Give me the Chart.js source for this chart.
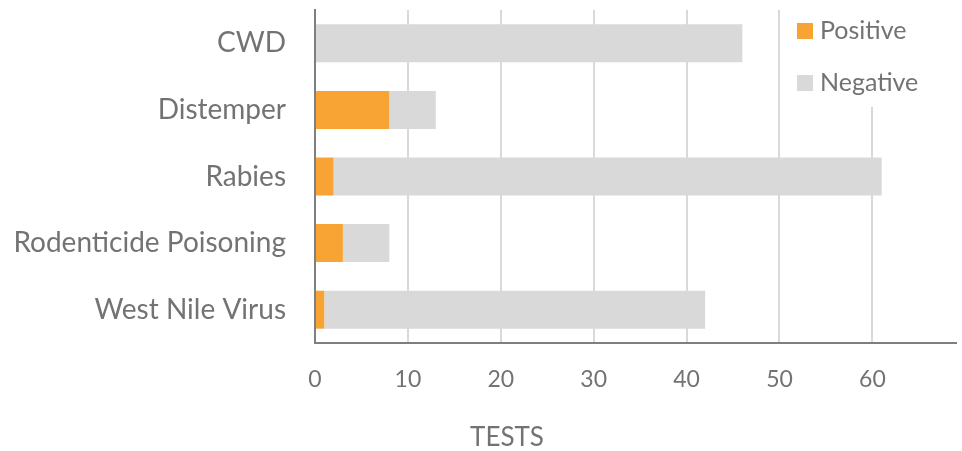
<!DOCTYPE html>
<html lang="en">
  <head>
    <meta charset="UTF-8" />
    <title>Tests</title>
    <style>
      html, body { margin: 0; padding: 0; background: #fff; }
      #wrap { width: 962px; height: 451px; }
    </style>
    <script src="https://cdn.jsdelivr.net/npm/chart.js"></script>
  </head>
  <body>
    <div id="wrap"><canvas id="myChart" width="962" height="451"></canvas></div>
    <script>
      const categories = ["CWD", "Distemper", "Rabies", "Rodenticide Poisoning", "West Nile Virus"];
      const positive = [0, 8, 2, 3, 1];
      const negative = [46, 5, 59, 5, 41];
      const axisTitle = "TESTS";

      const textColor = "#737373";
      const fontFamily = "Lato, 'Open Sans', sans-serif";

      // legend drawn in a white box over the top right of the plot
      const boxLegend = {
        id: "boxLegend",
        afterDraw(chart) {
          const {ctx, chartArea} = chart;
          ctx.save();
          ctx.fillStyle = "#fff";
          ctx.fillRect(chartArea.right - 174, chartArea.top - 10, 174, 107);
          ctx.font = "25px " + fontFamily;
          ctx.textBaseline = "middle";
          chart.data.datasets.forEach((ds, i) => {
            const y = chartArea.top + 21 + i * 52;
            ctx.fillStyle = ds.backgroundColor;
            ctx.fillRect(chartArea.right - 159, y - 8, 16, 16);
            ctx.fillStyle = textColor;
            ctx.fillText(ds.label, chartArea.right - 136, y);
          });
          // axis title
          ctx.font = "26px " + fontFamily;
          ctx.textAlign = "center";
          ctx.fillText(axisTitle, 507, 438);
          ctx.restore();
        },
      };

      new Chart(document.getElementById("myChart"), {
        type: "bar",
        data: {
          labels: categories,
          datasets: [
            {label: "Positive", data: positive, backgroundColor: "#f8a435", categoryPercentage: 1, barPercentage: 0.57},
            {label: "Negative", data: negative, backgroundColor: "#d9d9d9", categoryPercentage: 1, barPercentage: 0.57},
          ],
        },
        options: {
          indexAxis: "y",
          responsive: false,
          animation: false,
          layout: {padding: {top: 10, right: 6, left: 0, bottom: 0}},
          plugins: {legend: {display: false}, tooltip: {enabled: false}},
          scales: {
            x: {
              stacked: true,
              min: 0,
              max: 69,
              ticks: {stepSize: 10, color: textColor, font: {family: fontFamily, size: 23}, padding: 23},
              afterBuildTicks: (s) => { s.ticks = s.ticks.filter((t) => t.value % 10 === 0); },
              afterFit: (s) => { s.height = 108; s.paddingLeft = 0; s.paddingRight = 0; },
              grid: {color: "#d9d9d9", lineWidth: 2, drawTicks: false},
              border: {color: "#7f7f7f", width: 2},
            },
            y: {
              stacked: true,
              ticks: {color: textColor, font: {family: fontFamily, size: 28}, padding: 29},
              afterFit: (s) => { s.width = 315; s.paddingTop = 0; s.paddingBottom = 0; },
              grid: {display: false, drawTicks: false},
              border: {color: "#7f7f7f", width: 2},
            },
          },
        },
        plugins: [boxLegend],
      });
    </script>
  </body>
</html>
